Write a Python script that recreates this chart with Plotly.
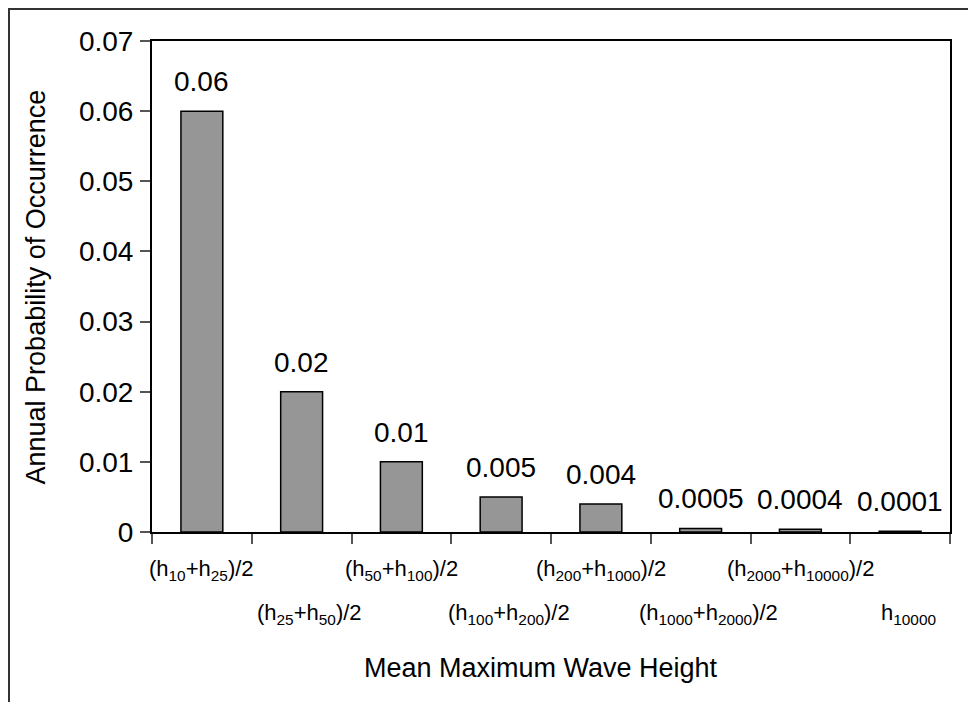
import plotly.graph_objects as go

# ---- data ----
categories = [
    "(h<sub>10</sub>+h<sub>25</sub>)/2",
    "(h<sub>25</sub>+h<sub>50</sub>)/2",
    "(h<sub>50</sub>+h<sub>100</sub>)/2",
    "(h<sub>100</sub>+h<sub>200</sub>)/2",
    "(h<sub>200</sub>+h<sub>1000</sub>)/2",
    "(h<sub>1000</sub>+h<sub>2000</sub>)/2",
    "(h<sub>2000</sub>+h<sub>10000</sub>)/2",
    "h<sub>10000</sub>",
]
values = [0.06, 0.02, 0.01, 0.005, 0.004, 0.0005, 0.0004, 0.0001]
value_labels = ["0.06", "0.02", "0.01", "0.005", "0.004", "0.0005", "0.0004", "0.0001"]
y_ticks = [0, 0.01, 0.02, 0.03, 0.04, 0.05, 0.06, 0.07]
y_tick_labels = ["0", "0.01", "0.02", "0.03", "0.04", "0.05", "0.06", "0.07"]
x_title = "Mean Maximum Wave Height"
y_title = "Annual Probability of Occurrence"

FONT = "Liberation Sans, Arial, sans-serif"

fig = go.Figure(
    go.Bar(
        x=categories,
        y=values,
        width=0.42,
        marker=dict(color="#969696", line=dict(color="black", width=1.5)),
        hoverinfo="skip",
    )
)

annotations = []
# value labels above bars
for c, v, t in zip(categories, values, value_labels):
    annotations.append(dict(
        x=c, y=v, xref="x", yref="y", text=t, showarrow=False,
        yanchor="bottom", xanchor="center", yshift=12,
        font=dict(size=28, color="black", family=FONT),
    ))
# category labels in two staggered rows
for i, c in enumerate(categories):
    row2 = i % 2 == 1
    annotations.append(dict(
        x=c, y=0, xref="x", yref="paper", text=c, showarrow=False,
        yanchor="middle", xanchor="center",
        yshift=-82 if row2 else -38,
        xshift=8 if row2 else 0,
        font=dict(size=22, color="black", family=FONT),
    ))
# axis titles
annotations.append(dict(
    x=-0.1454, y=0.5, xref="paper", yref="paper", text=y_title, showarrow=False,
    textangle=-90, xanchor="center", yanchor="middle",
    font=dict(size=27, color="black", family=FONT),
))
annotations.append(dict(
    x=0.4875, y=-0.277, xref="paper", yref="paper", text=x_title, showarrow=False,
    xanchor="center", yanchor="middle",
    font=dict(size=27, color="black", family=FONT),
))

fig.update_layout(
    width=968, height=694,
    margin=dict(l=144, r=26, t=33, b=170),
    paper_bgcolor="white", plot_bgcolor="white",
    showlegend=False,
    font=dict(family=FONT, color="black"),
    annotations=annotations,
    shapes=[dict(
        type="rect", xref="paper", yref="paper",
        x0=-0.1792, x1=1.06, y0=-0.40, y1=1.0652,
        line=dict(color="#333333", width=2), fillcolor="rgba(0,0,0,0)", layer="below",
    )],
)
fig.update_xaxes(
    type="category", range=[-0.5, len(categories) - 0.5],
    tickson="boundaries", ticks="outside", ticklen=10, tickwidth=1.5, tickcolor="#555555",
    showticklabels=False, showgrid=False, zeroline=False,
    showline=True, linecolor="black", linewidth=2, mirror=True,
)
fig.update_yaxes(
    range=[0, 0.07], tickvals=y_ticks, ticktext=y_tick_labels,
    ticks="outside", ticklen=10, tickwidth=1.5, tickcolor="#555555",
    tickfont=dict(size=28, color="black", family=FONT), ticklabelstandoff=1,
    showgrid=False, zeroline=False,
    showline=True, linecolor="black", linewidth=2, mirror=True,
)

fig.write_html("out.html")
